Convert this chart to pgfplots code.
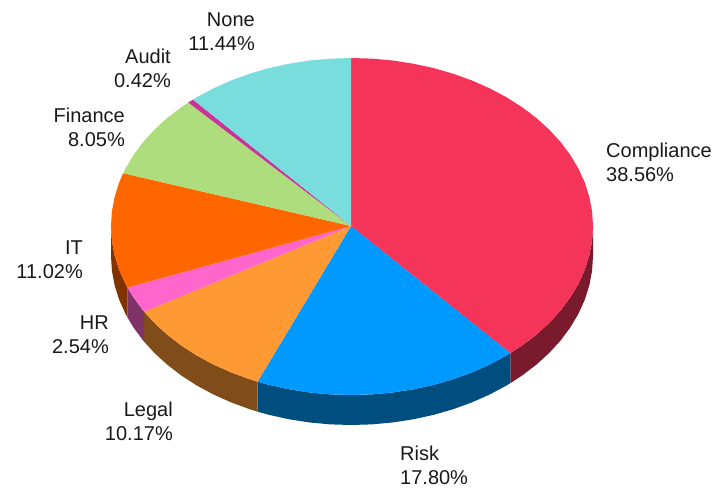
\documentclass[border=0pt]{standalone}
\usepackage{fontspec}
\setmainfont{Liberation Sans}
\usepackage{pgfplots}
\pgfplotsset{compat=1.18}
\definecolor{cCompliance}{HTML}{F43459}
\definecolor{cRisk}{HTML}{0099FF}
\definecolor{cLegal}{HTML}{FF9933}
\definecolor{cHR}{HTML}{FF66CC}
\definecolor{cIT}{HTML}{FF6600}
\definecolor{cFinance}{HTML}{AEDD7D}
\definecolor{cAudit}{HTML}{CC3399}
\definecolor{cNone}{HTML}{7ADDDD}
\definecolor{sCompliance}{HTML}{7A1A2D}
\definecolor{sRisk}{HTML}{004D80}
\definecolor{sLegal}{HTML}{804D1A}
\definecolor{sHR}{HTML}{803366}
\definecolor{sIT}{HTML}{803300}
\begin{document}
\begin{tikzpicture}
\begin{axis}[
  scale only axis, width=713pt, height=488pt,
  xmin=0, xmax=713, ymin=0, ymax=488, y dir=reverse,
  hide axis, clip=false, no markers,
]
\path (axis cs:0,0) rectangle (axis cs:713,488);
% side walls
\addplot[fill=sCompliance,draw=none] coordinates {(593,226)(592.08,240.73)(589.32,255.35)(584.76,269.74)(578.41,283.8)(570.33,297.42)(560.58,310.5)(549.23,322.93)(536.38,334.63)(522.12,345.5)(510.33,353.19)(510.33,383.19)(522.12,375.5)(536.38,364.63)(549.23,352.93)(560.58,340.5)(570.33,327.42)(578.41,313.8)(584.76,299.74)(589.32,285.35)(592.08,270.73)(593,256)} -- cycle;
\addplot[fill=sRisk,draw=none] coordinates {(510.33,353.19)(506.56,355.46)(489.81,364.44)(472,372.36)(453.27,379.17)(433.77,384.81)(413.63,389.24)(393.02,392.43)(372.09,394.36)(351,395)(330.08,394.36)(309.33,392.43)(288.89,389.24)(268.91,384.81)(257.62,381.68)(257.62,411.68)(268.91,414.81)(288.89,419.24)(309.33,422.43)(330.08,424.36)(351,425)(372.09,424.36)(393.02,422.43)(413.63,419.24)(433.77,414.81)(453.27,409.17)(472,402.36)(489.81,394.44)(506.56,385.46)(510.33,383.19)} -- cycle;
\addplot[fill=sLegal,draw=none] coordinates {(257.62,381.68)(249.57,379.17)(231,372.36)(213.34,364.44)(196.73,355.46)(181.29,345.5)(167.15,334.63)(154.41,322.93)(144.16,311.73)(144.16,341.73)(154.41,352.93)(167.15,364.63)(181.29,375.5)(196.73,385.46)(213.34,394.44)(231,402.36)(249.57,409.17)(257.62,411.68)} -- cycle;
\addplot[fill=sHR,draw=none] coordinates {(144.16,311.73)(143.15,310.5)(133.48,297.42)(127.46,287.52)(127.46,317.52)(133.48,327.42)(143.15,340.5)(144.16,341.73)} -- cycle;
\addplot[fill=sIT,draw=none] coordinates {(127.46,287.52)(125.47,283.8)(119.17,269.74)(114.65,255.35)(111.91,240.73)(111,226)(111,256)(111.91,270.73)(114.65,285.35)(119.17,299.74)(125.47,313.8)(127.46,317.52)} -- cycle;
% top faces
\addplot[fill=cCompliance,draw=none] coordinates {(351,226)(351,58)(372.09,58.64)(393.02,60.55)(413.63,63.73)(433.77,68.13)(453.27,73.74)(472,80.51)(489.81,88.38)(506.56,97.31)(522.12,107.21)(536.38,118.01)(549.23,129.64)(560.58,142)(570.33,155)(578.41,168.54)(584.76,182.52)(589.32,196.82)(592.08,211.36)(593,226)(592.08,240.73)(589.32,255.35)(584.76,269.74)(578.41,283.8)(570.33,297.42)(560.58,310.5)(549.23,322.93)(536.38,334.63)(522.12,345.5)(510.33,353.19)} -- cycle;
\addplot[fill=cRisk,draw=none] coordinates {(351,226)(510.33,353.19)(506.56,355.46)(489.81,364.44)(472,372.36)(453.27,379.17)(433.77,384.81)(413.63,389.24)(393.02,392.43)(372.09,394.36)(351,395)(330.08,394.36)(309.33,392.43)(288.89,389.24)(268.91,384.81)(257.62,381.68)} -- cycle;
\addplot[fill=cLegal,draw=none] coordinates {(351,226)(257.62,381.68)(249.57,379.17)(231,372.36)(213.34,364.44)(196.73,355.46)(181.29,345.5)(167.15,334.63)(154.41,322.93)(144.16,311.73)} -- cycle;
\addplot[fill=cHR,draw=none] coordinates {(351,226)(144.16,311.73)(143.15,310.5)(133.48,297.42)(127.46,287.52)} -- cycle;
\addplot[fill=cIT,draw=none] coordinates {(351,226)(127.46,287.52)(125.47,283.8)(119.17,269.74)(114.65,255.35)(111.91,240.73)(111,226)(111.91,211.36)(114.65,196.82)(119.17,182.52)(123.17,173.18)} -- cycle;
\addplot[fill=cFinance,draw=none] coordinates {(351,226)(123.17,173.18)(125.47,168.54)(133.48,155)(143.15,142)(154.41,129.64)(167.15,118.01)(181.29,107.21)(188.24,102.53)} -- cycle;
\addplot[fill=cAudit,draw=none] coordinates {(351,226)(188.24,102.53)(192.99,99.56)} -- cycle;
\addplot[fill=cNone,draw=none] coordinates {(351,226)(192.99,99.56)(196.73,97.31)(213.34,88.38)(231,80.51)(249.57,73.74)(268.91,68.13)(288.89,63.73)(309.33,60.55)(330.08,58.64)(351,58)} -- cycle;
% labels
\tikzset{lab/.style={font=\fontsize{20}{24.3}\selectfont,text=black!90,inner sep=0pt}}
\node[lab,anchor=west,align=left] at (axis cs:606,162) {Compliance\\38.56\%};
\node[lab,anchor=west,align=left] at (axis cs:400,465) {Risk\\17.80\%};
\node[lab,anchor=east,align=right] at (axis cs:173,421) {Legal\\10.17\%};
\node[lab,anchor=east,align=right] at (axis cs:109,335) {HR\\2.54\%};
\node[lab,anchor=east,align=right] at (axis cs:83,260) {IT\\11.02\%};
\node[lab,anchor=east,align=right] at (axis cs:125,127) {Finance\\8.05\%};
\node[lab,anchor=east,align=right] at (axis cs:171,68) {Audit\\0.42\%};
\node[lab,anchor=east,align=right] at (axis cs:255,32) {None\\11.44\%};
\end{axis}
\end{tikzpicture}
\end{document}
